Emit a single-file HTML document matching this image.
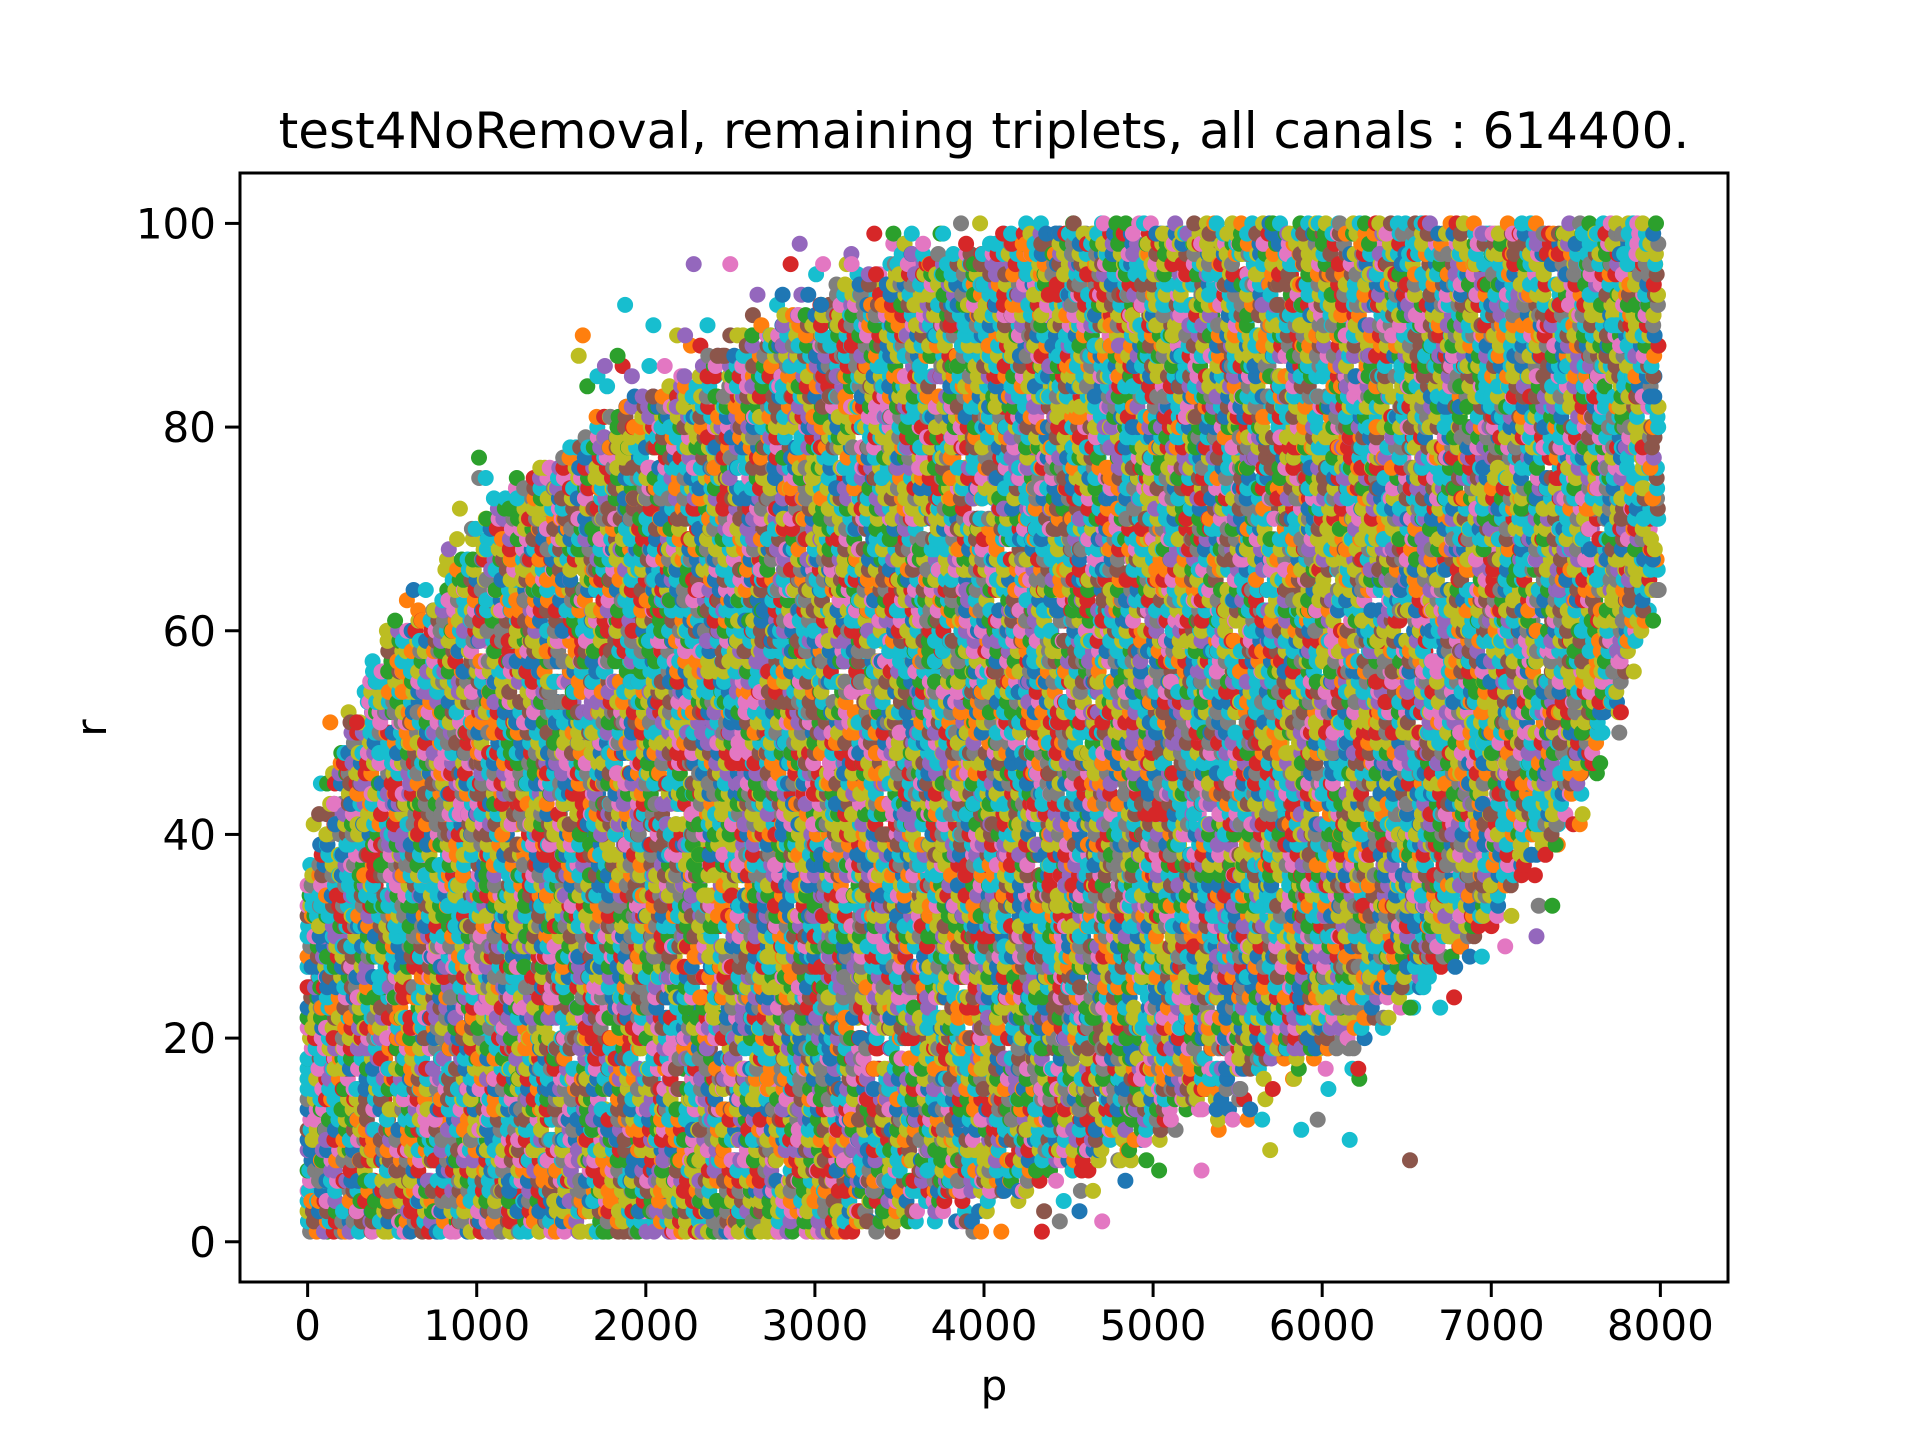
<!DOCTYPE html>
<html><head><meta charset="utf-8"><title>test4NoRemoval</title>
<style>html,body{margin:0;padding:0;background:#fff;}svg{display:block;font-family:"DejaVu Sans","Liberation Sans",sans-serif;}</style>
</head><body>
<svg id="chart" width="1920" height="1440" viewBox="0 0 1920 1440">
<rect width="1920" height="1440" fill="#fff"/>
<text x="984" y="148" font-size="50" text-anchor="middle">test4NoRemoval, remaining triplets, all canals : 614400.</text>
<g id="dots"></g>
<rect x="240" y="173" width="1488" height="1109" fill="none" stroke="#000" stroke-width="3"/>
<g id="axes"></g>
<text x="994" y="1400" font-size="42" text-anchor="middle">p</text>
<text x="0" y="0" font-size="42" text-anchor="middle" transform="translate(106,728) rotate(-90)">r</text>
</svg>
<script>
const xTicks = [0,1000,2000,3000,4000,5000,6000,7000,8000];
const yTicks = [0,20,40,60,80,100];
const upperP = [0,250,500,1000,1500,2000,2500,3000,3500,4000,4500,8000];
const upperR = [35,50,58,68,76,82,87,91,95,97,100,100];
const lowerP = [0,3250,3500,4000,4500,5000,5500,6000,6500,7000,7500,8000];
const lowerR = [1,1,3,5,8,12,16,20,26,33,45,65];
const palette = ['#1f77b4','#ff7f0e','#2ca02c','#d62728','#9467bd','#8c564b','#e377c2','#7f7f7f','#bcbd22','#17becf'];

const X0=240, X1=1728, Y0=173, Y1=1282;
const xmin=-400, xmax=8400, ymin=-3.95, ymax=104.95;
const xs = v => X0 + (v - xmin) / (xmax - xmin) * (X1 - X0);
const ys = v => Y1 - (v - ymin) / (ymax - ymin) * (Y1 - Y0);
const NS = 'http://www.w3.org/2000/svg';

function interp(P, R, p){
  for(let i=0;i<P.length-1;i++){
    if(p<=P[i+1]){const t=(p-P[i])/(P[i+1]-P[i]);return R[i]+t*(R[i+1]-R[i]);}
  }
  return R[R.length-1];
}
function h(a,b){let n=(a*374761393+b*668265263)|0;n=(n^(n>>>13))*1274126177|0;return ((n^(n>>>16))>>>0)/4294967296;}

const axes=document.getElementById('axes');
xTicks.forEach(t=>{
  const x=xs(t);
  const l=document.createElementNS(NS,'line');
  l.setAttribute('x1',x);l.setAttribute('x2',x);l.setAttribute('y1',Y1);l.setAttribute('y2',Y1+15);
  l.setAttribute('stroke','#000');l.setAttribute('stroke-width','3');
  
  
  axes.appendChild(l);
  const tx=document.createElementNS(NS,'text');
  tx.setAttribute('x',x);tx.setAttribute('y',Y1+58);tx.setAttribute('font-size','42');tx.setAttribute('text-anchor','middle');
  tx.textContent=t;
  
  
  axes.appendChild(tx);
});
yTicks.forEach(t=>{
  const y=ys(t);
  const l=document.createElementNS(NS,'line');
  l.setAttribute('x1',X0-15);l.setAttribute('x2',X0);l.setAttribute('y1',y);l.setAttribute('y2',y);
  l.setAttribute('stroke','#000');l.setAttribute('stroke-width','3');
  
  
  axes.appendChild(l);
  const tx=document.createElementNS(NS,'text');
  tx.setAttribute('x',X0-24);tx.setAttribute('y',y+15);tx.setAttribute('font-size','42');tx.setAttribute('text-anchor','end');
  tx.textContent=t;
  
  
  axes.appendChild(tx);
});

const dots=document.getElementById('dots');
let html='';
const stepP=45, stepR=0.7;
let i=0;
for(let p=0;p<=8000;p+=stepP){
  const up=interp(upperP,upperR,p), lo=interp(lowerP,lowerR,p);
  let j=0;
  for(let r=1;r<=100;r+=stepR){
    j++;
    // fuzzy edges: allow sparse points beyond the envelope
    const out = Math.max(0, r-up, lo-r);
    if(out>0 && h(i+11,j+17) > Math.exp(-out/2.5)*0.7) continue;
    let pp=p+(h(i,j)-0.5)*stepP*1.2;
    let rr=r+(h(j,i+7)-0.5)*stepR*1.2;
    pp=Math.max(0,Math.min(8000,pp));
    rr=Math.max(1,Math.min(100,Math.round(rr)));
    let ci=Math.floor(h(i*3+1,j*5+2)*10);
    const bias = 0.12 + 0.18*(pp/8000)*(rr/100);
    if(h(i*7+3,j*2+9) < bias) ci = h(i+5,j+5)<0.55 ? 9 : 8;
    html+='<circle cx="'+xs(pp).toFixed(1)+'" cy="'+ys(rr).toFixed(1)+'" r="8" fill="'+palette[ci]+'"/>';
  }
  i++;
}
dots.innerHTML=html;
</script>
</body></html>
